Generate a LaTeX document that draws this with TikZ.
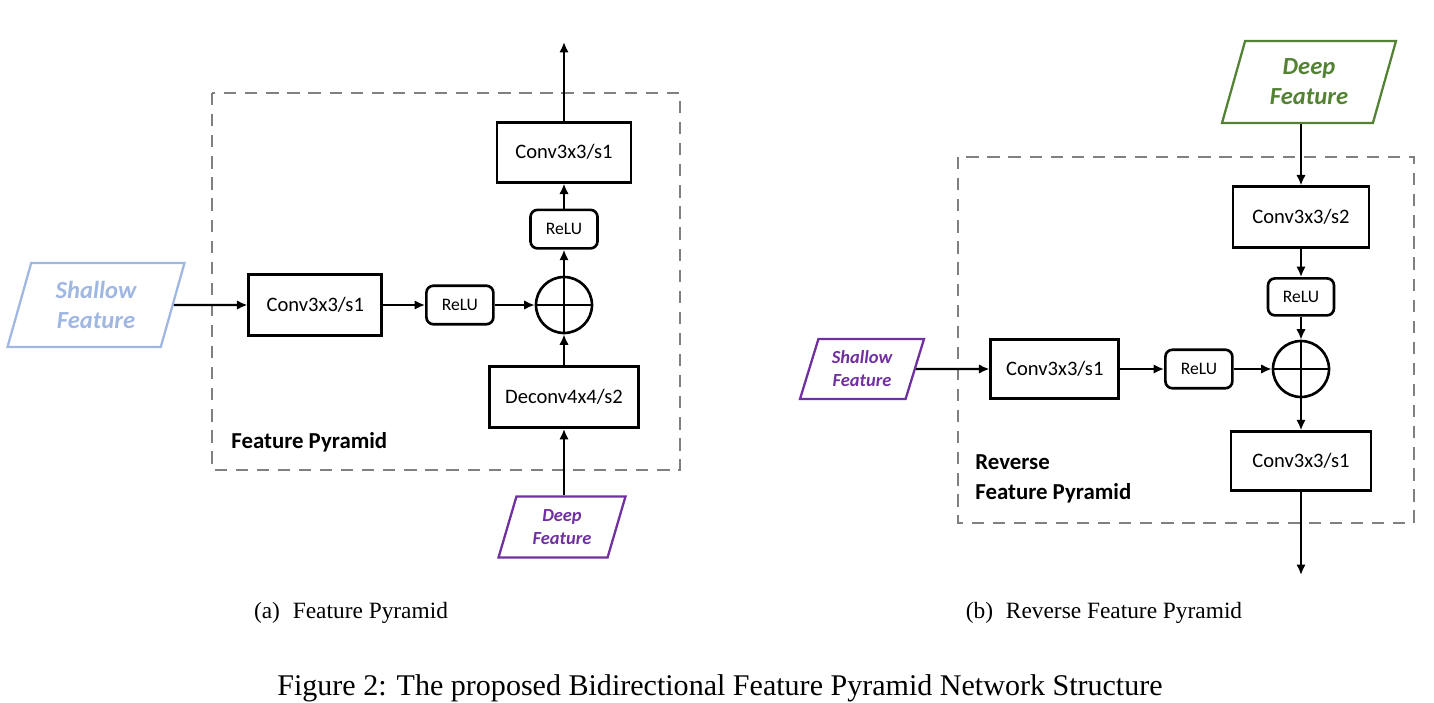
\documentclass[tikz,border=0pt]{standalone}
\usepackage{fontspec}
\setmainfont{Liberation Serif}
\newfontfamily\boxfont{Carlito}
\usepackage{tikz}
\usetikzlibrary{arrows.meta, positioning, shapes.geometric}
\usepackage{xcolor}
\definecolor{shallowblue}{RGB}{160,183,226}
\definecolor{featpurple}{RGB}{112,48,160}
\definecolor{featgreen}{RGB}{84,130,53}
\definecolor{framegray}{RGB}{128,128,128}

\begin{document}
\begin{tikzpicture}[
x=0.02cm, y=-0.02cm,
box/.style={draw, 
rectangle, 
line width=1.5pt, 
minimum width=2.68cm, 
minimum height=1.22cm, 
inner sep=2pt, 
font=\boxfont\fontsize{11.7}{14}\selectfont},
relu/.style={draw, 
rectangle, 
rounded corners=4pt, 
line width=1.5pt, 
minimum width=1.34cm, 
minimum height=0.77cm, 
inner sep=2pt, 
font=\boxfont\fontsize{10}{12}\selectfont},
sum/.style={draw, 
circle, 
line width=1.5pt, 
minimum size=1.12cm, 
inner sep=0pt, 
path picture={\draw[line width=1.5pt] (path picture bounding box.west) -- (path picture bounding box.east) (path picture bounding box.north) -- (path picture bounding box.south);}},
feature/.style={draw, 
trapezium, 
trapezium left angle=65, 
trapezium right angle=115, 
trapezium stretches body, 
line width=1.3pt, 
align=center, 
inner sep=1pt},
bigfeat/.style={font=\boxfont\bfseries\itshape\fontsize{14}{17}\selectfont},
smallfeat/.style={font=\boxfont\bfseries\itshape\fontsize{10.5}{13}\selectfont},
dashframe/.style={draw=framegray, line width=1.1pt, dash pattern=on 7pt off 5pt},
panelname/.style={font=\boxfont\bfseries\fontsize{13}{17}\selectfont, align=left, inner sep=0pt},
subcap/.style={font=\fontsize{13.3}{16}\selectfont},
arrow/.style={-{Latex[length=2.1mm, width=1.9mm]}, line width=1.3pt}
]
\useasboundingbox (0,0) rectangle (1434,703);

% (a) Feature Pyramid
\draw[dashframe] (212,93) rectangle (680,470);
\node[sum] (sumL) at (564,305) {};
\node[relu, above=0.52cm of sumL] (reluUpL) {ReLU};
\node[box, above=0.5cm of reluUpL, minimum height=1.2cm] (convOutL) {Conv3x3/s1};
\node[relu, left=0.8cm of sumL] (reluInL) {ReLU};
\node[box, left=0.84cm of reluInL, minimum width=2.66cm] (convInL) {Conv3x3/s1};
\node[box, below=0.62cm of sumL, minimum width=2.98cm] (deconvL) {Deconv4x4/s2};
\node[feature, bigfeat, draw=shallowblue, text=shallowblue, minimum width=3.54cm, minimum height=1.68cm] (shallowL) at (96,305) {Shallow\\Feature};
\node[feature, smallfeat, draw=featpurple, text=featpurple, minimum width=2.54cm, minimum height=1.22cm] (deepL) at (562,527) {Deep\\Feature};
\coordinate (outL) at (564,42);
\node[panelname, anchor=west] (nameL) at (231,442) {Feature Pyramid};

\draw[arrow] (shallowL.east) -- (convInL);
\draw[arrow] (convInL) -- (reluInL);
\draw[arrow] (reluInL) -- (sumL);
\draw[arrow] (deconvL.south |- deepL.north) -- (deconvL.south);
\draw[arrow] (deconvL) -- (sumL);
\draw[arrow] (sumL) -- (reluUpL);
\draw[arrow] (reluUpL) -- (convOutL);
\draw[arrow] (convOutL) -- (outL);

% (b) Reverse Feature Pyramid
\draw[dashframe] (958,157) rectangle (1414,523);
\node[sum] (sumR) at (1301,369) {};
\node[relu, above=0.46cm of sumR, minimum width=1.32cm, minimum height=0.74cm] (reluUpR) {ReLU};
\node[box, above=0.56cm of reluUpR, minimum width=2.72cm] (convDownR) {Conv3x3/s2};
\node[relu, left=0.76cm of sumR] (reluInR) {ReLU};
\node[box, left=0.88cm of reluInR, minimum width=2.56cm, minimum height=1.18cm] (convInR) {Conv3x3/s1};
\node[box, below=0.64cm of sumR, minimum width=2.8cm, minimum height=1.18cm] (convOutR) {Conv3x3/s1};
\node[feature, bigfeat, draw=featgreen, text=featgreen, minimum width=3.48cm, minimum height=1.64cm] (deepR) at (1309,82) {Deep\\Feature};
\node[feature, smallfeat, draw=featpurple, text=featpurple, minimum width=2.48cm, minimum height=1.2cm] (shallowR) at (862,369) {Shallow\\Feature};
\coordinate (outR) at (1301,575);
\node[panelname, anchor=north west] (nameR) at (975,454) {Reverse\\Feature Pyramid};

\draw[arrow] (convDownR.north |- deepR.south) -- (convDownR.north);
\draw[arrow] (convDownR) -- (reluUpR);
\draw[arrow] (reluUpR) -- (sumR);
\draw[arrow] (shallowR.east) -- (convInR);
\draw[arrow] (convInR) -- (reluInR);
\draw[arrow] (reluInR) -- (sumR);
\draw[arrow] (sumR) -- (convOutR);
\draw[arrow] (convOutR) -- (outR);

% captions
\node[subcap] (capA) at (351,613) {(a)\hspace{0.55em}Feature Pyramid};
\node[subcap] (capB) at (1104,613) {(b)\hspace{0.55em}Reverse Feature Pyramid};
\node[font=\fontsize{17.1}{20}\selectfont] (figCap) at (720,688) {Figure 2: The proposed Bidirectional Feature Pyramid Network Structure};

\end{tikzpicture}
\end{document}
